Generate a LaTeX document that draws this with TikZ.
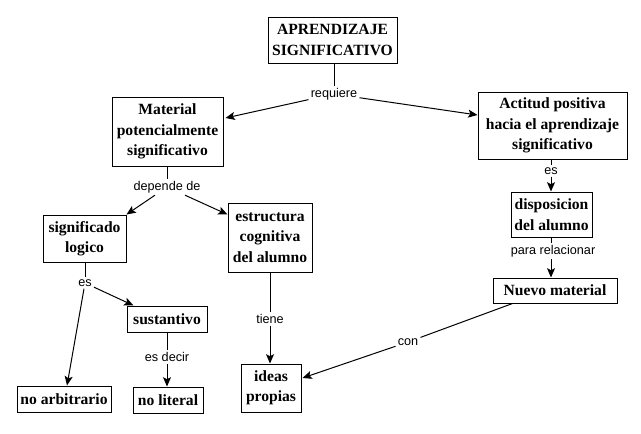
\documentclass[tikz,border=0pt]{standalone}
\usepackage{fontspec}
\setmainfont{Liberation Serif}
\newfontfamily\lblfont{Liberation Sans}
\usetikzlibrary{arrows.meta,calc}
\tikzset{
  concept/.style 2 args={draw, line width=0.75pt, inner sep=0pt, align=center,
    font=\bfseries\fontsize{11.7}{15.3}\selectfont,
    minimum width={#1*0.75pt}, minimum height={#2*0.75pt}},
  linklabel/.style={inner sep=1.5pt, font=\lblfont\fontsize{9.5}{11}\selectfont},
  link/.style={line width=0.75pt},
  arr/.style={line width=0.75pt, -{Stealth[length=7pt,width=6pt,inset=1.5pt]}}
}
\begin{document}
\begin{tikzpicture}[x=0.75pt,y=-0.75pt]
\useasboundingbox (0,0) rectangle (641,433);
% concepts
\node[concept={129}{46}] (apr) at (332.5,40) {APRENDIZAJE\\SIGNIFICATIVO};
\node[concept={111}{69}] (mat) at (167.5,131.5) {Material\\potencialmente\\significativo};
\node[concept={149}{67}] (act) at (552.5,125.5) {Actitud positiva\\hacia el aprendizaje\\significativo};
\node[concept={81}{45}] (disp) at (551.5,214.5) {disposicion\\del alumno};
\node[concept={124}{25}] (nuevo) at (555,290.5) {Nuevo material};
\node[concept={83}{47}] (sig) at (84.5,238.5) {significado\\logico};
\node[concept={84}{69}] (est) at (270,237.5) {estructura\\cognitiva\\del alumno};
\node[concept={80}{26}] (sust) at (167,319) {sustantivo};
\node[concept={94}{26}] (noarb) at (64,399) {no arbitrario};
\node[concept={70}{26}] (nolit) at (168,400) {no literal};
\node[concept={60}{48}] (ideas) at (271,388) {ideas\\propias};
% link labels
\node[linklabel] (req) at (334,94) {requiere};
\node[linklabel] (dep) at (167,187) {depende de};
\node[linklabel] (es1) at (551,171) {es};
\node[linklabel] (para) at (553,251) {para relacionar};
\node[linklabel] (es2) at (85,283) {es};
\node[linklabel] (esdec) at (167,357) {es decir};
\node[linklabel] (tiene) at (270,319) {tiene};
\node[linklabel] (con) at (408,342) {con};
% connectors
\draw[link] (req |- apr.south) -- (req.north);
\draw[arr] (req) -- ($(mat.east)+(2,-13.5)$);
\draw[arr] (req) -- ($(act.west)+(0,-10.5)$);
\draw[link] (dep |- mat.south) -- (dep.north);
\draw[arr] (dep) -- (sig.north east);
\draw[arr] (dep) -- ($(est.north west)+(0,12)$);
\draw[link] (es1 |- act.south) -- (es1.north);
\draw[arr] (es1) -- (es1 |- disp.north);
\draw[link] (es1 |- disp.south) -- (es1 |- para.north);
\draw[arr] (es1 |- para.south) -- (es1 |- nuevo.north);
\draw[link] ($(nuevo.south west)+(20,0)$) -- (con);
\draw[arr] (con) -- ($(ideas.east)+(1,-10)$);
\draw[link] (es2 |- sig.south) -- (es2.north);
\draw[arr] (es2) -- ($(noarb.north)+(3,0)$);
\draw[arr] (es2) -- ($(sust.north west)+(7,0)$);
\draw[link] (esdec |- sust.south) -- (esdec.north);
\draw[arr] (esdec) -- (esdec |- nolit.north);
\draw[link] (tiene |- est.south) -- (tiene.north);
\draw[arr] (tiene) -- (tiene |- ideas.north);
\end{tikzpicture}
\end{document}
